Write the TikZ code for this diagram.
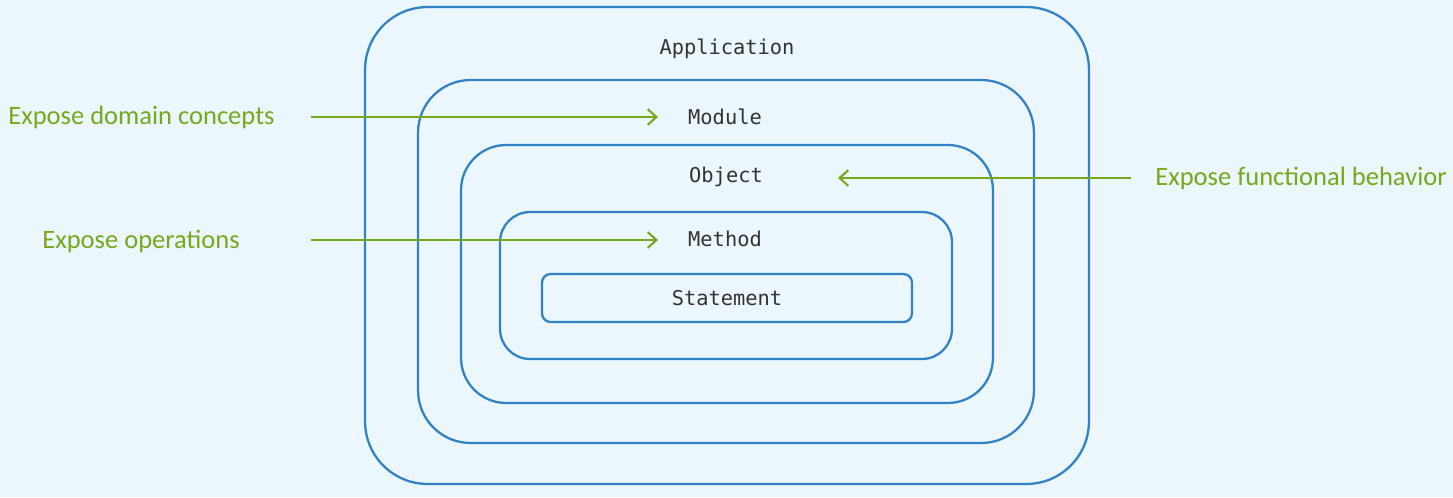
\documentclass[tikz,border=0pt]{standalone}
\usepackage{fontspec}
\setmainfont{Carlito}
\setmonofont{DejaVu Sans Mono}
\usetikzlibrary{arrows.meta}

\definecolor{bgblue}{HTML}{EBF6FD}
\definecolor{layerblue}{HTML}{3283C6}
\definecolor{exposegreen}{HTML}{78A91C}
\definecolor{textgray}{HTML}{333333}

\begin{document}
\begin{tikzpicture}[
                        x=0.02cm,
                        y=-0.02cm,
                        layer/.style={draw=layerblue,line width=1.3pt,inner sep=0pt},
                        layername/.style={font=\ttfamily\fontsize{11.6}{13}\selectfont,text=textgray,inner sep=0pt},
                        expose/.style={font=\fontsize{15.1}{18}\selectfont,text=exposegreen,inner sep=0pt},
                        flow/.style={-{Straight Barb[length=5pt,width=9pt,line width=1.2pt]},draw=exposegreen,line width=1.25pt}
                    ]
                    \fill[bgblue] (0,0) rectangle (1453,497) ;
                    \useasboundingbox (0,0) rectangle (1453,497) ;

                    % nested layers
                    \node[layer,rounded corners=1.25cm,minimum width=14.48cm,minimum height=9.54cm] (application) at (727,245.5) {} ;
                    \node[layer,rounded corners=1.05cm,minimum width=12.32cm,minimum height=7.26cm] (module)      at (726,261.5) {} ;
                    \node[layer,rounded corners=0.9cm, minimum width=10.64cm,minimum height=5.16cm] (object)      at (727,274)   {} ;
                    \node[layer,rounded corners=0.6cm, minimum width=9.04cm, minimum height=2.94cm] (method)      at (726,285.5) {} ;
                    \node[layer,rounded corners=0.17cm,minimum width=7.4cm,  minimum height=0.96cm,
                          layername]                                                                 (statement)   at (727,298)   {Statement} ;

                    % layer names
                    \node[layername] (applicationname) at (727,49)  {Application} ;
                    \node[layername] (modulename)      at (725,117) {Module} ;
                    \node[layername] (objectname)      at (726,177) {Object} ;
                    \node[layername] (methodname)      at (725,239) {Method} ;

                    % what each level exposes
                    \node[expose,anchor=west] (domain)     at (8,117)    {Expose domain concepts} ;
                    \node[expose,anchor=west] (operations) at (42,241)   {Expose operations} ;
                    \node[expose,anchor=east] (functional) at (1447,178) {Expose functional behavior} ;

                    \coordinate (domainstart)     at (311,117) ;
                    \coordinate (domainend)       at (658,117) ;
                    \coordinate (operationsstart) at (311,240) ;
                    \coordinate (operationsend)   at (658,240) ;
                    \coordinate (functionalstart) at (1131,178) ;
                    \coordinate (functionalend)   at (838,178) ;

                    \draw[flow] (domainstart)     -- (domainend) ;
                    \draw[flow] (operationsstart) -- (operationsend) ;
                    \draw[flow] (functionalstart) -- (functionalend) ;

                \end{tikzpicture}
\end{document}
